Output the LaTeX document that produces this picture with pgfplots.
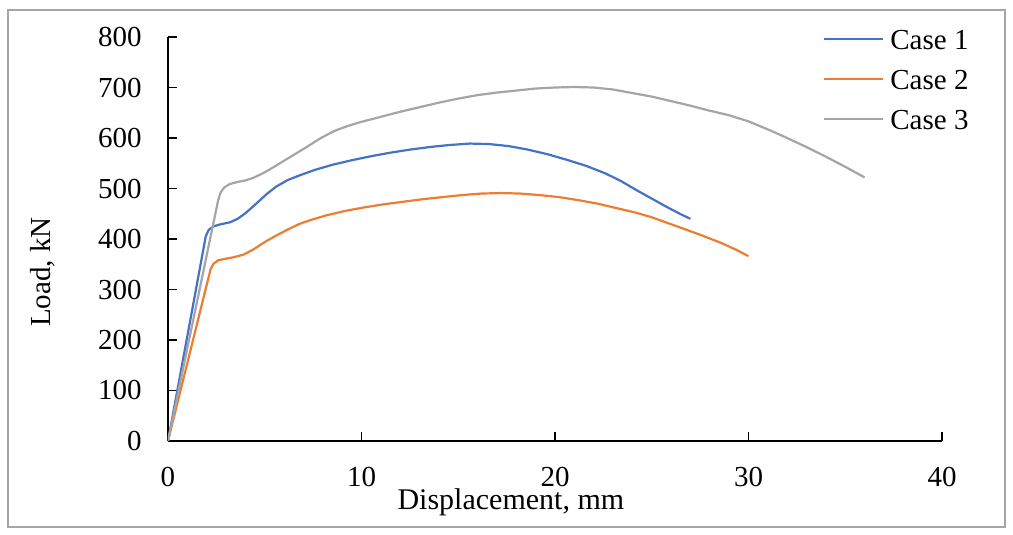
\documentclass[border=0pt]{standalone}
\usepackage{pgfplots}
\pgfplotsset{compat=1.18}
\usepackage{fontspec}
\setmainfont{Liberation Serif}
\definecolor{c1}{HTML}{4472C4}
\definecolor{c2}{HTML}{ED7D31}
\definecolor{c3}{HTML}{A5A5A5}
\definecolor{frame}{HTML}{A6A6A6}
\begin{document}
\fontsize{14.5}{17}\selectfont
\begin{tikzpicture}
\useasboundingbox (0,0) rectangle (506.5pt,267.5pt);
\draw[frame, line width=0.75pt] (4pt,4pt) rectangle (502.5pt,262.5pt);
\begin{axis}[
  at={(84pt,47pt)}, anchor=south west,
  scale only axis, width=387pt, height=202pt,
  xmin=0, xmax=40, ymin=0, ymax=800,
  axis lines=left,
  axis line style={-, line width=0.75pt, black},
  xtick={0,10,20,30,40},
  ytick={0,100,...,800},
  tick align=inside,
  major tick length=4.5pt,
  tick style={line width=0.75pt, black},
  /pgf/number format/assume math mode=true,
  tick label style={font=\fontsize{14.5}{17}\selectfont},
  yticklabel style={inner sep=0pt, anchor=east, xshift=-13pt},
  xticklabel style={inner sep=0pt, anchor=north, yshift=-13pt},
  every axis y label/.style={at={(axis description cs:-0.1615,0.418)}, rotate=90, anchor=center, font=\fontsize{14.5}{17}\selectfont},
  every axis x label/.style={at={(axis description cs:0.443,0)}, anchor=center, yshift=-30.5pt, font=\fontsize{15}{18}\selectfont},
  xlabel={Displacement, mm},
  ylabel={Load, kN},
  legend style={at={(axis description cs:0.846,1.02)}, anchor=north west, draw=none, fill=none,
    inner sep=0pt, row sep=10pt, column sep=3pt, font=\fontsize{14.5}{17}\selectfont,
    nodes={inner sep=0pt, text height=10pt, text depth=0pt, anchor=west}},
  legend cell align=left,
  legend image code/.code={\draw[#1] (0pt,0pt) -- (29.5pt,0pt);},
  every axis plot/.append style={line width=1.1pt, line join=round},
]
\addplot[c1] coordinates {
 (0,0) (1.95,405) (2.1,418) (2.35,425) (2.7,429) (3.2,433) (3.6,440) (4.0,451) (4.5,468)
 (5.1,489) (5.6,504) (6.2,517) (6.8,526) (7.6,537) (8.5,547) (9.5,556) (10.5,564)
 (11.5,571) (12.5,577) (13.5,582) (14.5,586) (15.6,589) (16.6,588) (17.6,584) (18.6,577)
 (19.6,568) (20.6,557) (21.6,545) (22.6,530) (23.4,515) (24.2,497) (25.0,480) (25.8,463)
 (26.5,449) (27,440)};
\addlegendentry{Case 1}
\addplot[c2] coordinates {
 (0,0) (2.2,340) (2.35,351) (2.6,358) (3.0,361) (3.4,364) (3.9,369) (4.4,379) (5.0,394)
 (5.6,407) (6.2,419) (6.8,430) (7.4,438) (8.2,447) (9.2,456) (10.2,463) (11.2,469)
 (12.2,474) (13.2,479) (14.2,483) (15.2,487) (16.2,490) (17.2,491) (18.2,490) (19.2,487)
 (20.2,483) (21.2,477) (22.2,470) (23.2,461) (24.2,452) (25.0,443) (25.8,432) (26.6,421)
 (27.6,407) (28.6,392) (29.4,378) (30,366)};
\addlegendentry{Case 2}
\addplot[c3] coordinates {
 (0,0) (2.6,478) (2.72,492) (2.9,502) (3.2,509) (3.6,513) (4.0,516) (4.4,521) (4.9,530)
 (5.4,541) (6.0,555) (6.6,569) (7.2,583) (7.9,600) (8.6,614) (9.3,624) (10,632) (11,642)
 (12,652) (13,661) (14,670) (15,678) (16,685) (17,690) (18,694) (19,698) (20,700) (21,701)
 (22,700) (23,696) (24,689) (25,682) (26,673) (27,664) (28,654) (29,645) (30,633) (31,617)
 (32,600) (33,582) (34,563) (35,543) (36,522)};
\addlegendentry{Case 3}
\end{axis}
\end{tikzpicture}
\end{document}
